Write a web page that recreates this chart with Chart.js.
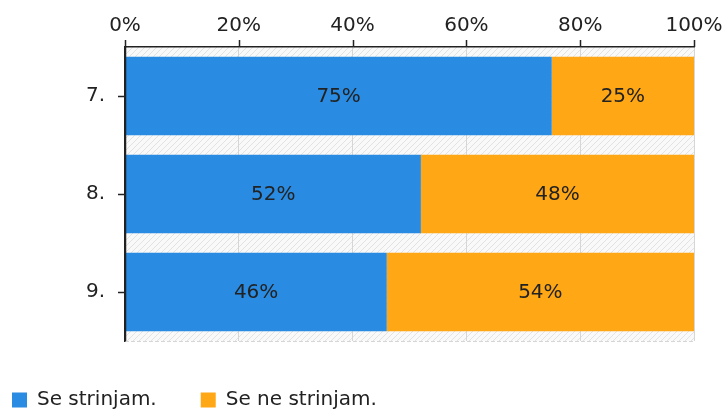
<!DOCTYPE html>
<html>
<head>
<meta charset="utf-8">
<script src="https://cdn.jsdelivr.net/npm/chart.js@4/dist/chart.umd.min.js"></script>
<style>
  html, body { margin: 0; padding: 0; background: #fff; }
  #wrap { width: 723px; height: 409px; }
</style>
</head>
<body>
<div id="wrap"><canvas id="chart"></canvas></div>
<script>
// podatki
const categories = ["7.", "8.", "9."];
const seriesNames = ["Se strinjam.", "Se ne strinjam."];
const agree = [75, 52, 46];
const disagree = [25, 48, 54];
const seriesColors = ["#298be1", "#ffa714"];

const FONT = "'DejaVu Sans', Verdana, sans-serif";

// črtkano ozadje grafa
function makeHatch() {
  const c = document.createElement("canvas");
  c.width = 6; c.height = 6;
  const g = c.getContext("2d");
  g.fillStyle = "#f9f9f9";
  g.fillRect(0, 0, 6, 6);
  g.strokeStyle = "#e2e2e2";
  g.lineWidth = 1;
  g.beginPath();
  g.moveTo(-1, 7); g.lineTo(7, -1);
  g.moveTo(-1, 1); g.lineTo(1, -1);
  g.moveTo(5, 7); g.lineTo(7, 5);
  g.stroke();
  return g.createPattern(c, "repeat");
}

const hatchBg = {
  id: "hatchBg",
  beforeDraw(chart) {
    const { ctx, chartArea: a } = chart;
    ctx.save();
    ctx.fillStyle = makeHatch();
    ctx.fillRect(a.left, a.top, a.right - a.left, a.bottom - a.top);
    ctx.strokeStyle = "#d6d6d6";
    ctx.setLineDash([4, 2]);
    ctx.beginPath();
    ctx.moveTo(a.left, a.bottom + 0.5);
    ctx.lineTo(a.right, a.bottom + 0.5);
    ctx.stroke();
    ctx.restore();
  }
};

// kratke črne oznake na oseh
const tickMarks = {
  id: "tickMarks",
  afterDraw(chart) {
    const { ctx, chartArea: a, scales } = chart;
    ctx.save();
    ctx.strokeStyle = "#222";
    ctx.lineWidth = 1.5;
    ctx.beginPath();
    scales.x.ticks.forEach(t => {
      const x = Math.round(scales.x.getPixelForValue(t.value)) + 0.5;
      ctx.moveTo(x, a.top - 7);
      ctx.lineTo(x, a.top);
    });
    categories.forEach((c, i) => {
      const y = Math.round(scales.y.getPixelForValue(i)) + 0.5;
      ctx.moveTo(a.left - 7, y);
      ctx.lineTo(a.left, y);
    });
    ctx.moveTo(a.left + 0.5, a.top - 7);
    ctx.lineTo(a.left + 0.5, a.bottom);
    ctx.stroke();
    ctx.restore();
  }
};

// vrednosti na sredini stolpcev
const barLabels = {
  id: "barLabels",
  afterDatasetsDraw(chart) {
    const { ctx } = chart;
    ctx.save();
    ctx.font = "20px " + FONT;
    ctx.fillStyle = "#222";
    ctx.textAlign = "center";
    ctx.textBaseline = "middle";
    chart.data.datasets.forEach((ds, di) => {
      chart.getDatasetMeta(di).data.forEach((bar, i) => {
        const p = bar.getProps(["x", "y", "base"], true);
        ctx.fillText(ds.data[i] + "%", (p.x + p.base) / 2, p.y + 1);
      });
    });
    ctx.restore();
  }
};

// legenda bolj levo in nižje
const legendShift = {
  id: "legendShift",
  afterLayout(chart) {
    const l = chart.legend;
    l.left -= 32; l.right -= 32;
    l.top += 5; l.bottom += 5;
  }
};

new Chart(document.getElementById("chart"), {
  type: "bar",
  data: {
    labels: categories,
    datasets: [
      { label: seriesNames[0], data: agree, backgroundColor: seriesColors[0] },
      { label: seriesNames[1], data: disagree, backgroundColor: seriesColors[1] }
    ]
  },
  options: {
    indexAxis: "y",
    responsive: true,
    maintainAspectRatio: false,
    animation: false,
    devicePixelRatio: 1,
    layout: { padding: { top: 0, right: 0, left: 0, bottom: -6 } },
    datasets: { bar: { categoryPercentage: 1, barPercentage: 0.8 } },
    scales: {
      x: {
        position: "top",
        stacked: true,
        min: 0, max: 100,
        ticks: {
          stepSize: 20,
          callback: v => v + "%",
          color: "#222",
          padding: 9,
          font: { family: FONT, size: 20 }
        },
        grid: { color: "#d6d6d6", drawTicks: false },
        border: { color: "#222", width: 1.5 },
        afterFit: s => { s.height = 47; s.paddingRight = 29; s.paddingLeft = 0; }
      },
      y: {
        stacked: true,
        ticks: {
          color: "#222",
          padding: 12,
          font: { family: FONT, size: 20 }
        },
        grid: { display: false },
        border: { color: "#222", width: 1.5 },
        afterFit: s => { s.width = 125; }
      }
    },
    plugins: {
      legend: {
        position: "bottom",
        align: "start",
        labels: {
          boxWidth: 15,
          boxHeight: 15,
          padding: 44,
          color: "#222",
          font: { family: FONT, size: 20 }
        }
      },
      tooltip: { enabled: false }
    }
  },
  plugins: [hatchBg, barLabels, tickMarks, legendShift]
});
</script>
</body>
</html>
